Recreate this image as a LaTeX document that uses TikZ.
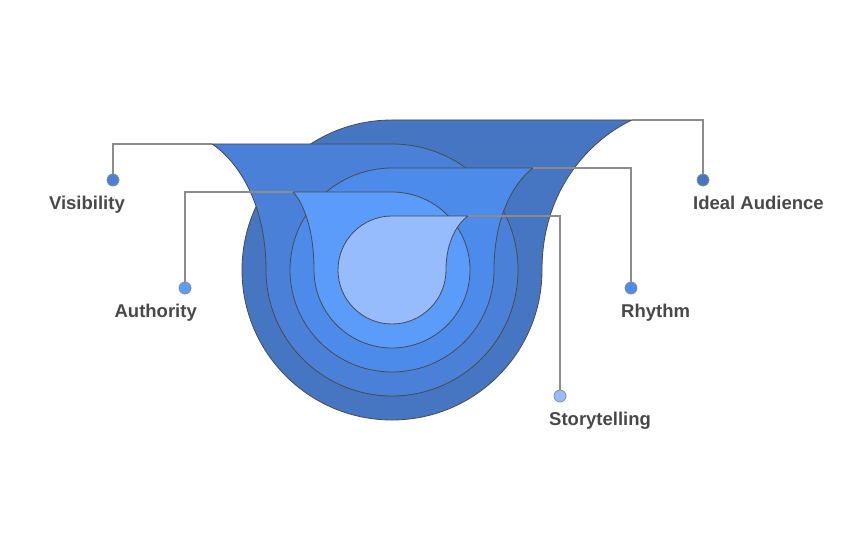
\documentclass[tikz,border=0pt]{standalone}
\usepackage{fontspec}
\setmainfont{Liberation Sans}
\usetikzlibrary{positioning}

\definecolor{blueA}{HTML}{4676C1}
\definecolor{blueB}{HTML}{4A80D8}
\definecolor{blueC}{HTML}{4D8BEB}
\definecolor{blueD}{HTML}{5B9CFA}
\definecolor{blueE}{HTML}{97BCFE}
\definecolor{edge}{HTML}{4A4A4A}
\definecolor{wire}{HTML}{8C8C8C}
\definecolor{ink}{HTML}{484848}

\tikzset{
  layer/.style={draw=edge, line width=0.8pt, fill=#1},
  conn/.style={draw=wire, line width=1.1pt},
  endpt/.style={circle, draw=wire, line width=0.8pt, fill=#1,
    minimum size=12pt, inner sep=0pt},
  lbl/.style={font=\bfseries\fontsize{18.5}{22}\selectfont, text=ink, inner sep=0pt}
}

\begin{document}
\begin{tikzpicture}[x=1pt, y=1pt]
\useasboundingbox (0,0) rectangle (851,558);
% tips of the flares
\coordinate (tA) at (632,438);
\coordinate (tB) at (212,414);
\coordinate (tC) at (533,390);
\coordinate (tD) at (293,366);
\coordinate (tE) at (468,342);
% layers, largest at the back
\path[layer=blueA] (542,288) arc[start angle=0, end angle=-270, radius=150]
  -- (tA) .. controls (589.7,418) and (542,368) .. (542,288) -- cycle;
\path[layer=blueB] (266,288) arc[start angle=180, end angle=450, radius=126]
  -- (tB) .. controls (237.4,397.2) and (266,355.2) .. (266,288) -- cycle;
\path[layer=blueC] (494,288) arc[start angle=0, end angle=-270, radius=102]
  -- (tC) .. controls (514.7,376.4) and (494,342.4) .. (494,288) -- cycle;
\path[layer=blueD] (314,288) arc[start angle=180, end angle=450, radius=78]
  -- (tD) .. controls (302.9,355.6) and (314,329.6) .. (314,288) -- cycle;
\path[layer=blueE] (446,288) arc[start angle=0, end angle=-270, radius=54]
  -- (tE) .. controls (457.7,334.8) and (446,316.8) .. (446,288) -- cycle;
% end points
\node[endpt=blueA] (dotA) at (703,378) {};
\node[endpt=blueB] (dotB) at (113,378) {};
\node[endpt=blueC] (dotC) at (631,270) {};
\node[endpt=blueD] (dotD) at (185,270) {};
\node[endpt=blueE] (dotE) at (560,162) {};
% connectors
\draw[conn] (dotA) |- (tA);
\draw[conn] (dotB) |- (tB);
\draw[conn] (dotC) |- (tC);
\draw[conn] (dotD) |- (tD);
\draw[conn] (dotE) |- (tE);
% labels
\node[lbl, anchor=north west] (labA) at ([xshift=-10pt, yshift=-9pt]dotA.south) {Ideal Audience};
\node[lbl, anchor=north east] (labB) at ([xshift=12pt, yshift=-9pt]dotB.south) {Visibility};
\node[lbl, anchor=north west] (labC) at ([xshift=-10pt, yshift=-9pt]dotC.south) {Rhythm};
\node[lbl, anchor=north east] (labD) at ([xshift=12pt, yshift=-9pt]dotD.south) {Authority};
\node[lbl, anchor=north west] (labE) at ([xshift=-11pt, yshift=-9pt]dotE.south) {Storytelling};
\end{tikzpicture}
\end{document}
